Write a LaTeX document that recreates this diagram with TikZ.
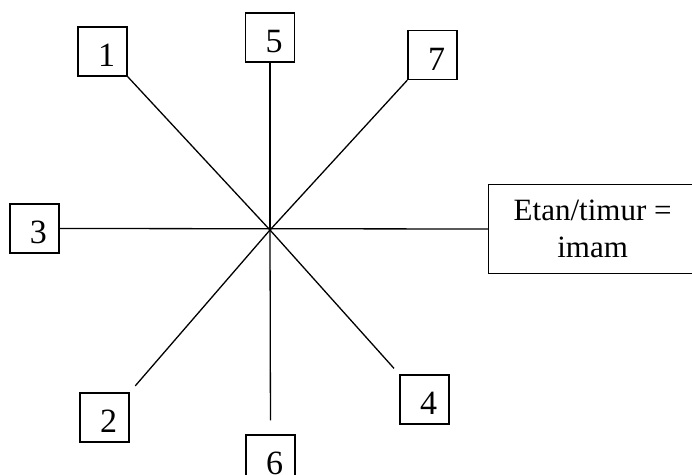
\documentclass[tikz,border=0pt]{standalone}
\usepackage{fontspec}
\setmainfont{Liberation Serif}
\usepackage{tikz}
\usetikzlibrary{calc,positioning}

\begin{document}
\begin{tikzpicture}
[x=0.5pt,y=-0.5pt]

    \tikzstyle{every node}=[font=\fontsize{15.5}{17.5}\selectfont]
    \tikzstyle{numbox}=[draw,line width=0.65pt,rectangle,minimum size=24.5pt,
                        inner sep=0pt]
    \tikzstyle{numtxt}=[xshift=2pt,yshift=-2pt,font=\fontsize{17}{18}\selectfont]
    \tikzstyle{ray}=[line width=0.65pt]

    \useasboundingbox (0,0) rectangle (692,475);
    \clip (0,0) rectangle (692,475);

    % the centre where all lines meet
    \coordinate (c) at (270,230);

    % the numbered boxes
    \node[numbox,label={[numtxt]center:1}] (n1) at (102.5,51.5) {};
    \node[numbox,label={[numtxt]center:2}] (n2) at (104.5,417.5) {};
    \node[numbox,label={[numtxt]center:3}] (n3) at (34.5,228.5) {};
    \node[numbox,label={[numtxt]center:4}] (n4) at (424.5,399.5) {};
    \node[numbox,label={[numtxt]center:5}] (n5) at (270,37.5) {};
    \node[numbox,label={[numtxt]center:6}] (n6) at (270.5,459.5) {};
    \node[numbox,label={[numtxt]center:7}] (n7) at (432.5,55) {};

    % east box, runs off the right edge
    \node[draw,line width=0.65pt,rectangle,minimum width=110pt,
          minimum height=44.5pt,inner sep=0pt,align=center,
          anchor=west] (imam) at (488,229)
          {\hspace*{-6pt}Etan/timur =\\[1pt]\hspace*{-6pt}imam};

    % the lines
    \draw[ray] (n1.south east) -- (c);
    \draw[ray] (n5.south) -- (c);
    \draw[ray] (n7.south west) -- (c);
    \draw[ray] (n3.east) -- (imam.west);
    \draw[ray,shorten >=4.3pt] (c) -- (n2.north east);
    \draw[ray,shorten >=7pt] (c) -- (n6.north);
    \draw[ray,shorten >=4pt] (c) -- (n4.north west);

 \end{tikzpicture}
\end{document}
